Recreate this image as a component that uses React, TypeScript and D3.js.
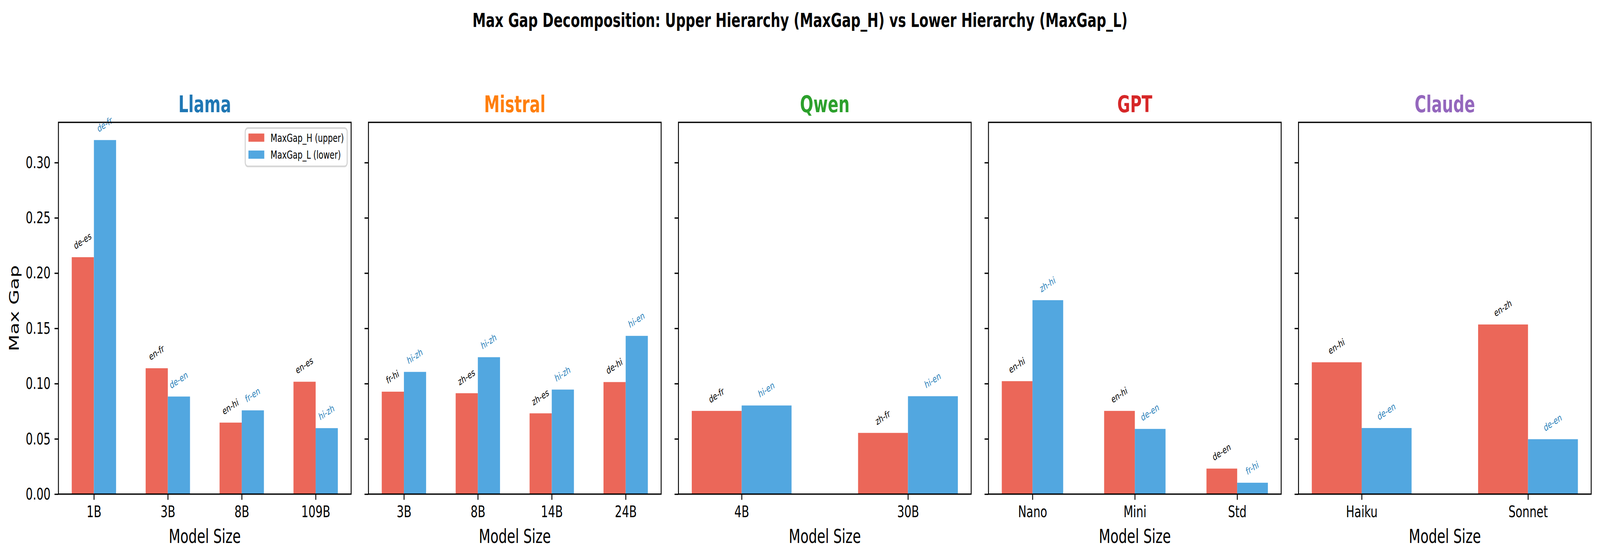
import React, { useRef, useEffect } from 'react';
import * as d3 from 'd3';

// model families, one subplot each
const families = ['Llama', 'Mistral', 'Qwen', 'GPT', 'Claude'];
const familyColors = ['#1f77b4', '#ff7f0e', '#2ca02c', '#d62728', '#9467bd'];

const sizes = [
  ['1B', '3B', '8B', '109B'],
  ['3B', '8B', '14B', '24B'],
  ['4B', '30B'],
  ['Nano', 'Mini', 'Std'],
  ['Haiku', 'Sonnet'],
];

// MaxGap_H (upper hierarchy)
const maxGapH = [
  [0.2144, 0.1139, 0.0647, 0.1017],
  [0.0927, 0.0913, 0.0731, 0.1014],
  [0.0753, 0.0554],
  [0.1022, 0.0753, 0.0231],
  [0.1193, 0.1535],
];

// MaxGap_L (lower hierarchy)
const maxGapL = [
  [0.3204, 0.0883, 0.0758, 0.0597],
  [0.1106, 0.1239, 0.0946, 0.1432],
  [0.0802, 0.0886],
  [0.1755, 0.0590, 0.0103],
  [0.0598, 0.0497],
];

// language pair that produced each gap
const pairH = [
  ['de-es', 'en-fr', 'en-hi', 'en-es'],
  ['fr-hi', 'zh-es', 'zh-es', 'de-hi'],
  ['de-fr', 'zh-fr'],
  ['en-hi', 'en-hi', 'de-en'],
  ['en-hi', 'en-zh'],
];
const pairL = [
  ['de-fr', 'de-en', 'fr-en', 'hi-zh'],
  ['hi-zh', 'hi-zh', 'hi-zh', 'hi-en'],
  ['hi-en', 'hi-en'],
  ['zh-hi', 'de-en', 'fr-hi'],
  ['de-en', 'de-en'],
];

const yTicks = [0, 0.05, 0.1, 0.15, 0.2, 0.25, 0.3];
const legendLabels = ['MaxGap_H (upper)', 'MaxGap_L (lower)'];

const W = 5961;
const H = 1430;
const PT = 300 / 72;
const FONT = 'DejaVu Sans';
const RED = '#eb6759';
const BLUE = '#52a7e0';
const BLUE_TEXT = '#2980b9';

export default function App() {
  const ref = useRef<SVGSVGElement | null>(null);

  useEffect(() => {
    if (!ref.current) return;
    const svg = d3.select(ref.current);
    svg.selectAll('*').remove();

    const axW = 1090.5;
    const axTop = 313;
    const axBottom = 1264;
    const left0 = 217.7;
    const pitch = 1155;
    const barW = 0.3;
    const tickLen = 3.5 * PT;
    const lw = 0.8 * PT;
    const angle = 25;
    const rad = (angle * Math.PI) / 180;
    const annSize = 6 * PT;

    const allVals = maxGapH.flat().concat(maxGapL.flat());
    const yMax = 1.05 * (d3.max(allVals) as number);
    const y = d3.scaleLinear().domain([0, yMax]).range([axBottom, axTop]);

    svg.append('rect').attr('width', W).attr('height', H).attr('fill', '#fff');

    svg.append('text')
      .attr('x', W / 2)
      .attr('y', 69)
      .attr('text-anchor', 'middle')
      .attr('font-family', FONT)
      .attr('font-weight', 'bold')
      .attr('font-size', 12 * PT)
      .text('Max Gap Decomposition: Upper Hierarchy (MaxGap_H) vs Lower Hierarchy (MaxGap_L)');

    families.forEach((fam, i) => {
      const left = left0 + i * pitch;
      const n = sizes[i].length;
      const span = n - 1 + 2 * barW;
      const x = d3.scaleLinear()
        .domain([-barW - 0.05 * span, n - 1 + barW + 0.05 * span])
        .range([left, left + axW]);
      const g = svg.append('g');

      // bars
      sizes[i].forEach((_, j) => {
        g.append('rect')
          .attr('x', x(j - barW)).attr('width', x(j) - x(j - barW))
          .attr('y', y(maxGapH[i][j])).attr('height', axBottom - y(maxGapH[i][j]))
          .attr('fill', RED);
        g.append('rect')
          .attr('x', x(j)).attr('width', x(j + barW) - x(j))
          .attr('y', y(maxGapL[i][j])).attr('height', axBottom - y(maxGapL[i][j]))
          .attr('fill', BLUE);
      });

      // rotated pair labels above bars
      const annotate = (cx: number, v: number, label: string, color: string) => {
        const t = g.append('text')
          .attr('font-family', FONT)
          .attr('font-size', annSize)
          .attr('fill', color)
          .attr('text-anchor', 'middle')
          .attr('dy', '0.26em')
          .text(label);
        const w = (t.node() as SVGTextElement).getComputedTextLength();
        const hr = w * Math.sin(rad) + annSize * Math.cos(rad);
        const cy = y(v) - 14 - hr / 2;
        t.attr('transform', `translate(${cx},${cy}) rotate(${-angle})`);
      };
      sizes[i].forEach((_, j) => {
        annotate(x(j - barW / 2), maxGapH[i][j], pairH[i][j], '#000');
        annotate(x(j + barW / 2), maxGapL[i][j], pairL[i][j], BLUE_TEXT);
      });

      // y axis
      const yAxis = d3.axisLeft(y)
        .tickValues(yTicks)
        .tickSize(tickLen)
        .tickPadding(3.5 * PT)
        .tickFormat(i === 0 ? (d3.format('.2f') as any) : () => '');
      g.append('g')
        .attr('transform', `translate(${left},0)`)
        .call(yAxis)
        .call(a => a.select('.domain').remove())
        .call(a => a.selectAll('line').attr('stroke', '#000').attr('stroke-width', lw))
        .attr('font-family', FONT)
        .attr('font-size', 10 * PT)
        .call(a => a.selectAll('text').attr('fill', '#000'));

      // x axis
      const xAxis = d3.axisBottom(x)
        .tickValues(d3.range(n))
        .tickSize(tickLen)
        .tickPadding(3.5 * PT)
        .tickFormat((d: any) => sizes[i][d]);
      g.append('g')
        .attr('transform', `translate(0,${axBottom})`)
        .call(xAxis)
        .call(a => a.select('.domain').remove())
        .call(a => a.selectAll('line').attr('stroke', '#000').attr('stroke-width', lw))
        .attr('font-family', FONT)
        .attr('font-size', 10 * PT)
        .call(a => a.selectAll('text').attr('fill', '#000'));

      // frame
      g.append('rect')
        .attr('x', left).attr('y', axTop)
        .attr('width', axW).attr('height', axBottom - axTop)
        .attr('fill', 'none').attr('stroke', '#000').attr('stroke-width', lw);

      // titles
      g.append('text')
        .attr('x', left + axW / 2).attr('y', 287)
        .attr('text-anchor', 'middle')
        .attr('font-family', FONT).attr('font-weight', 'bold')
        .attr('font-size', 14 * PT)
        .attr('fill', familyColors[i])
        .text(fam);

      g.append('text')
        .attr('x', left + axW / 2).attr('y', 1389)
        .attr('text-anchor', 'middle')
        .attr('font-family', FONT).attr('font-size', 12 * PT)
        .text('Model Size');

      if (i === 0) {
        g.append('text')
          .attr('transform', `translate(70,${(axTop + axBottom) / 2}) rotate(-90)`)
          .attr('text-anchor', 'middle')
          .attr('font-family', FONT).attr('font-size', 12 * PT)
          .text('Max Gap');

        // legend
        const fs = 7 * PT;
        const lg = g.append('g');
        const boxR = left + axW - 0.5 * fs;
        const boxT = axTop + 0.5 * fs;
        const boxW = 380;
        const boxH = 98;
        lg.append('rect')
          .attr('x', boxR - boxW).attr('y', boxT)
          .attr('width', boxW).attr('height', boxH)
          .attr('rx', 10).attr('ry', 10)
          .attr('fill', '#fff').attr('fill-opacity', 0.8)
          .attr('stroke', '#d6d6d6').attr('stroke-width', 1 * PT);
        [RED, BLUE].forEach((c, k) => {
          const rowBottom = boxT + 35 + k * 43.5;
          lg.append('rect')
            .attr('x', boxR - boxW + 12).attr('y', rowBottom - 21)
            .attr('width', 59).attr('height', 21)
            .attr('fill', c);
          lg.append('text')
            .attr('x', boxR - boxW + 12 + 59 + 0.8 * fs).attr('y', rowBottom)
            .attr('font-family', FONT).attr('font-size', fs)
            .text(legendLabels[k]);
        });
      }
    });
  }, []);

  // the drawing is laid out on a fixed 5961x1430 grid and stretched to fill the window
  return (
    <div>
      <style>{'html,body{margin:0;padding:0;overflow:hidden}'}</style>
      <svg
        ref={ref}
        viewBox={`0 0 ${W} ${H}`}
        preserveAspectRatio="none"
        style={{ display: 'block', width: '100vw', height: '100vh' }}
      />
    </div>
  );
}
